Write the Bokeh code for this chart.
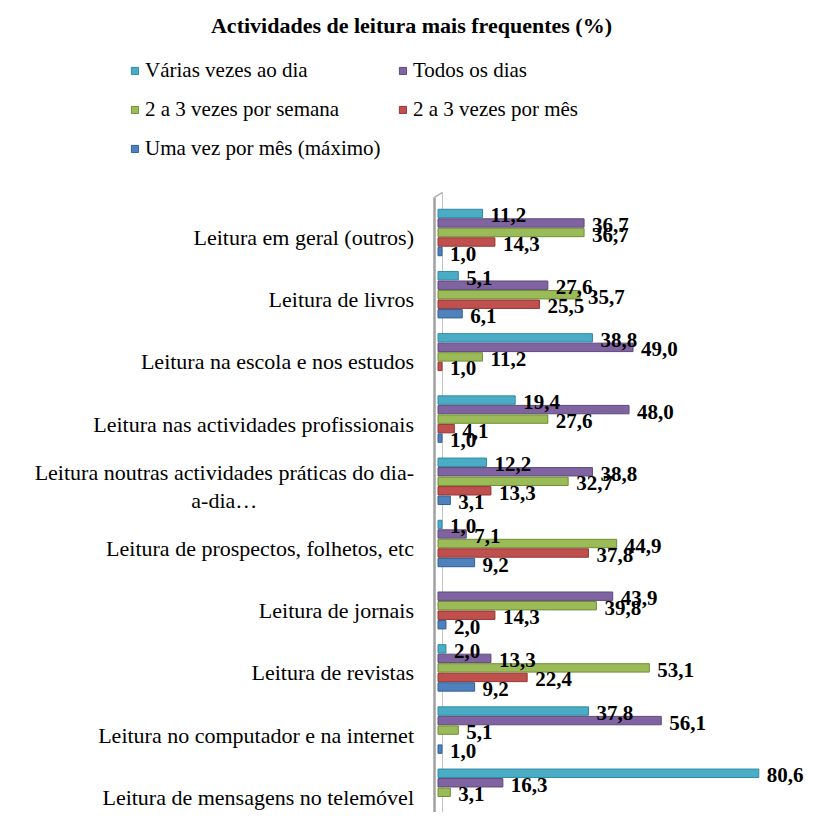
from bokeh.plotting import figure
from bokeh.models import Range1d, Legend, LegendItem, ColumnDataSource, Label
from bokeh.transform import dodge
from bokeh.core.properties import value
from bokeh.embed import file_html
from bokeh.resources import INLINE

title_text = "Actividades de leitura mais frequentes (%)"

categories = [
    "Leitura em geral (outros)",
    "Leitura de livros",
    "Leitura na escola e nos estudos",
    "Leitura nas actividades profissionais",
    "Leitura noutras actividades práticas do dia-\na-dia…",
    "Leitura de prospectos, folhetos, etc",
    "Leitura de jornais",
    "Leitura de revistas",
    "Leitura no computador e na internet",
    "Leitura de mensagens no telemóvel",
]

series_names = [
    "Várias vezes ao dia",
    "Todos os dias",
    "2 a 3 vezes por semana",
    "2 a 3 vezes por mês",
    "Uma vez por mês (máximo)",
]

varias_vezes_ao_dia = [11.2, 5.1, 38.8, 19.4, 12.2, 1.0, None, 2.0, 37.8, 80.6]
todos_os_dias = [36.7, 27.6, 49.0, 48.0, 38.8, 7.1, 43.9, 13.3, 56.1, 16.3]
vezes_por_semana = [36.7, 35.7, 11.2, 27.6, 32.7, 44.9, 39.8, 53.1, 5.1, 3.1]
vezes_por_mes = [14.3, 25.5, 1.0, 4.1, 13.3, 37.8, 14.3, 22.4, None, None]
uma_vez_por_mes = [1.0, 6.1, None, 1.0, 3.1, 9.2, 2.0, 9.2, 1.0, None]

series_values = [varias_vezes_ao_dia, todos_os_dias, vezes_por_semana,
                 vezes_por_mes, uma_vez_por_mes]

fill_colors = ["#4BACC6", "#8064A2", "#9BBB59", "#C0504D", "#4F81BD"]
line_colors = ["#2E8AA3", "#5F497A", "#6F8F35", "#943634", "#2F5F97"]

SERIF = value("Liberation Serif")

# ---- layout constants (pixels) ----
W, H = 806, 812
cat_px = 62.2           # height of one category band
first_center_px = 232   # centre of first category from top
bar_start_px = 437.5    # where bars start (value 0)
x_scale = 3.98          # pixels per percentage point

n = len(categories)
centers = [n - 1 - i for i in range(n)]
y_top = (n - 1) + first_center_px / cat_px
y_bot = (n - 1) - (H - first_center_px) / cat_px
x_start = -bar_start_px / x_scale
x_end = (W - bar_start_px) / x_scale

p = figure(width=W, height=H, output_backend="svg", toolbar_location=None,
           x_range=Range1d(x_start, x_end), y_range=Range1d(y_bot, y_top),
           x_axis_location=None, y_axis_location=None,
           min_border_left=0, min_border_right=0, min_border_top=0, min_border_bottom=0)
p.outline_line_color = None
p.grid.visible = False
p.background_fill_color = "white"

# ---- 3D wall of the value axis ----
wall_front = -3.5 / x_scale
wall_back = 4.5 / x_scale
wall_rise = 5 / cat_px
top_cat = n - 0.5 + 4 / cat_px
p.segment(x0=[wall_back], y0=[y_bot], x1=[wall_back], y1=[top_cat + wall_rise],
          line_color="#c4c4c4", line_width=1, level="underlay")
p.segment(x0=[wall_front], y0=[top_cat], x1=[wall_back], y1=[top_cat + wall_rise],
          line_color="#b0b0b0", line_width=1.5)
p.segment(x0=[wall_front], y0=[y_bot], x1=[wall_front], y1=[top_cat],
          line_color="#a0a0a0", line_width=2.5)

# ---- bars ----
pitch = 0.153
bar_h = 0.135
offsets = [2 * pitch, pitch, 0.0, -pitch, -2 * pitch]

bar_renderers = []
text_sources = []
for k, vals in enumerate(series_values):
    ys, vs, labs = [], [], []
    for c, v in zip(centers, vals):
        if v is None:
            continue
        ys.append(c)
        vs.append(v)
        labs.append(f"{v:.1f}".replace(".", ","))
    src = ColumnDataSource(dict(y=ys, v=vs, lab=labs))
    r = p.hbar(y=dodge("y", offsets[k]), left=0, right="v", height=bar_h, source=src,
               fill_color=fill_colors[k], line_color=line_colors[k], line_width=1)
    bar_renderers.append(r)
    text_sources.append(src)

# ---- value labels ----
for k, src in enumerate(text_sources):
    p.text(x="v", y=dodge("y", offsets[k]), text="lab", source=src,
           x_offset=8, y_offset=2, text_align="left", text_baseline="middle",
           text_font=SERIF, text_font_style="bold", text_font_size="21px",
           text_color="black")

# ---- category labels ----
cat_src = ColumnDataSource(dict(y=centers, name=categories, x0=[0] * n))
p.text(x="x0", y="y", text="name", source=cat_src, x_offset=-24, y_offset=5,
       anchor="center_right", text_align="center", text_baseline="middle",
       text_font=SERIF, text_font_size="22px", text_color="black",
       text_line_height=1.1)

# ---- legends (two columns) ----
def make_legend(idx, x, y):
    leg = Legend(items=[LegendItem(label=series_names[i], renderers=[bar_renderers[i]])
                        for i in idx],
                 location=(x, y), orientation="vertical",
                 glyph_width=9, glyph_height=9, label_height=26, spacing=13,
                 label_standoff=6, padding=0, margin=0,
                 border_line_color=None, background_fill_alpha=0,
                 label_text_font="Liberation Serif", label_text_font_size="21px",
                 label_text_color="black")
    p.add_layout(leg)

make_legend([0, 2, 4], 130, H - 161)
make_legend([1, 3], 398, H - 122)

# ---- title ----
p.add_layout(Label(x=411, y=H - 25, x_units="screen", y_units="screen", text=title_text,
                   text_align="center", text_baseline="middle",
                   text_font="Liberation Serif", text_font_style="bold",
                   text_font_size="22px", text_color="black"))

open("out.html", "w").write(file_html(p, INLINE))
